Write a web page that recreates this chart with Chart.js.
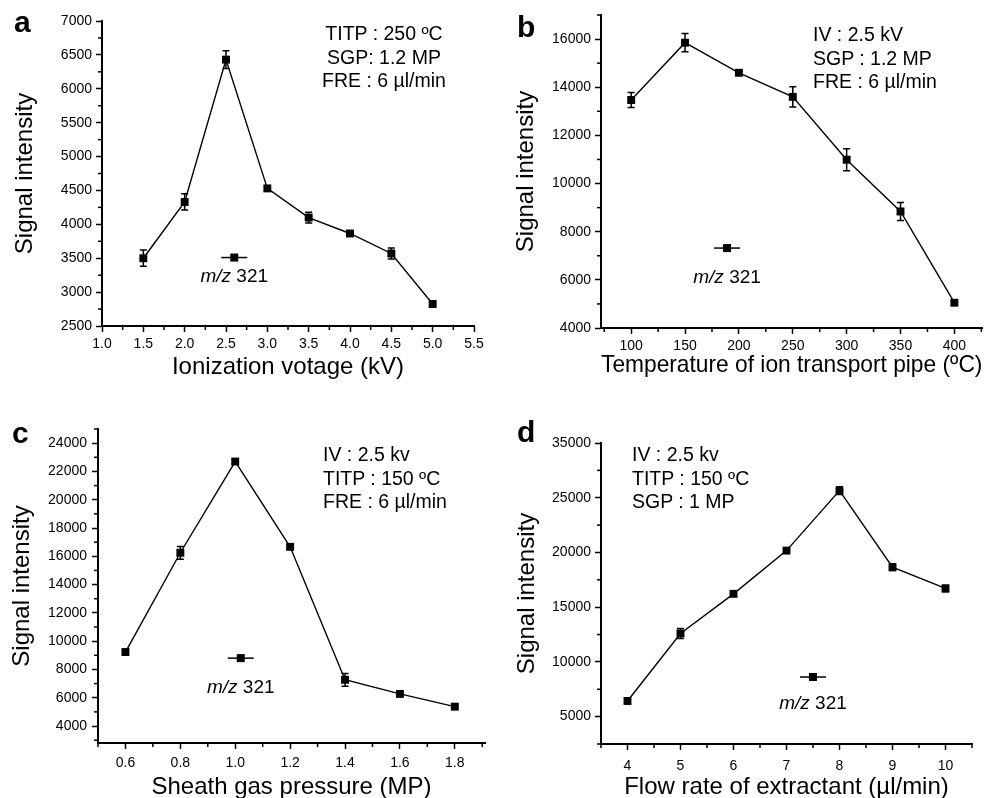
<!DOCTYPE html>
<html>
<head>
<meta charset="utf-8">
<script src="https://cdn.jsdelivr.net/npm/chart.js@4.4.1/dist/chart.umd.min.js"></script>
<style>
  html, body { margin: 0; padding: 0; background: #fff; }
  body { width: 988px; height: 798px; position: relative; overflow: hidden;
         font-family: "Liberation Sans", Arial, Helvetica, sans-serif; color: #000; }
  canvas { position: absolute; }
  .tag { position: absolute; font-weight: bold; font-size: 30px; line-height: 30px; }
  .note { position: absolute; font-size: 19.5px; line-height: 23.5px; white-space: nowrap; }
</style>
</head>
<body>
<canvas id="chart-a" width="494" height="390" style="left:0;top:0"></canvas>
<canvas id="chart-b" width="494" height="390" style="left:494px;top:0"></canvas>
<canvas id="chart-c" width="494" height="420" style="left:0;top:390px"></canvas>
<canvas id="chart-d" width="494" height="420" style="left:494px;top:390px"></canvas>

<div class="tag" style="left:14px;top:7px">a</div>
<div class="tag" style="left:517px;top:12px">b</div>
<div class="tag" style="left:12px;top:418px">c</div>
<div class="tag" style="left:517px;top:417px">d</div>

<div class="note" style="left:284px;top:22px;width:200px;text-align:center">TITP : 250 ºC<br>SGP: 1.2 MP<br>FRE : 6 µl/min</div>
<div class="note" style="left:813px;top:23px">IV : 2.5 kV<br>SGP : 1.2 MP<br>FRE : 6 µl/min</div>
<div class="note" style="left:323px;top:443px">IV : 2.5 kv<br>TITP : 150 ºC<br>FRE : 6 µl/min</div>
<div class="note" style="left:632px;top:443px">IV : 2.5 kv<br>TITP : 150 ºC<br>SGP : 1 MP</div>

<script>
const FONT = '"Liberation Sans", Arial, Helvetica, sans-serif';
const SERIES_LABEL = ['m/z', ' 321'];
const Y_TITLE = 'Signal intensity';

// a — ionization voltage
const voltA   = [1.5, 2.0, 2.5, 3.0, 3.5, 4.0, 4.5, 5.0];
const signalA = [3500, 4330, 6430, 4530, 4100, 3865, 3570, 2825];
const errA    = [120, 120, 130, 30, 80, 40, 80, 30];
const xTicksA = [1.0, 1.5, 2.0, 2.5, 3.0, 3.5, 4.0, 4.5, 5.0, 5.5];
const yTicksA = [2500, 3000, 3500, 4000, 4500, 5000, 5500, 6000, 6500, 7000];

// b — temperature of ion transport pipe
const tempB   = [100, 150, 200, 250, 300, 350, 400];
const signalB = [13470, 15850, 14600, 13600, 10990, 8840, 5050];
const errB    = [310, 380, 100, 420, 460, 370, 100];
const xTicksB = [100, 150, 200, 250, 300, 350, 400];
const yTicksB = [4000, 6000, 8000, 10000, 12000, 14000, 16000];

// c — sheath gas pressure
const pressC  = [0.6, 0.8, 1.0, 1.2, 1.4, 1.6, 1.8];
const signalC = [9230, 16250, 22700, 16670, 7270, 6270, 5370];
const errC    = [150, 450, 150, 150, 450, 80, 80];
const xTicksC = [0.6, 0.8, 1.0, 1.2, 1.4, 1.6, 1.8];
const yTicksC = [4000, 6000, 8000, 10000, 12000, 14000, 16000, 18000, 20000, 22000, 24000];

// d — flow rate of extractant
const flowD   = [4, 5, 6, 7, 8, 9, 10];
const signalD = [6430, 12600, 16220, 20170, 25650, 18650, 16710];
const errD    = [150, 450, 150, 250, 350, 300, 300];
const xTicksD = [4, 5, 6, 7, 8, 9, 10];
const yTicksD = [5000, 10000, 15000, 20000, 25000, 30000];
const yTickLabelsD = ['5000', '10000', '15000', '20000', '25000', '35000'];

// vertical error bars with caps
const errorBars = {
    id: 'errorBars',
    afterDatasetsDraw(chart) {
        const c = chart.ctx, sx = chart.scales.x, sy = chart.scales.y;
        c.save();
        c.strokeStyle = '#000';
        c.lineWidth = 1.5;
        chart.data.datasets.forEach(ds => {
            if (!ds.errors) return;
            ds.data.forEach((pt, i) => {
                const e = ds.errors[i];
                if (!e) return;
                const px = sx.getPixelForValue(pt.x);
                const y1 = sy.getPixelForValue(pt.y + e);
                const y2 = sy.getPixelForValue(pt.y - e);
                c.beginPath();
                c.moveTo(px, y1); c.lineTo(px, y2);
                c.moveTo(px - 3.5, y1); c.lineTo(px + 3.5, y1);
                c.moveTo(px - 3.5, y2); c.lineTo(px + 3.5, y2);
                c.stroke();
            });
        });
        c.restore();
    },
};

// short unlabelled ticks between the labelled ones
const minorTicks = {
    id: 'minorTicks',
    afterDraw(chart, args, opts) {
        const c = chart.ctx;
        c.save();
        c.strokeStyle = '#000';
        c.lineWidth = 1.5;
        ['x', 'y'].forEach(k => {
            const s = chart.scales[k], step = opts[k];
            if (!step) return;
            const majors = s.ticks.map(t => t.value);
            const first = Math.ceil(s.min / step - 1e-6);
            for (let n = first; n * step <= s.max + step * 1e-6; n++) {
                const v = n * step;
                if (majors.some(m => Math.abs(m - v) < step * 1e-3)) continue;
                const p = s.getPixelForValue(v);
                c.beginPath();
                if (k === 'x') { c.moveTo(p, s.top); c.lineTo(p, s.top + 4); }
                else { c.moveTo(s.right, p); c.lineTo(s.right - 4, p); }
                c.stroke();
            }
        });
        c.restore();
    },
};

// "■ m/z 321" key inside the plot
const mzLegend = {
    id: 'mzLegend',
    afterDraw(chart, args, o) {
        const c = chart.ctx;
        const px = chart.scales.x.getPixelForValue(o.x);
        const py = chart.scales.y.getPixelForValue(o.y);
        c.save();
        c.strokeStyle = '#000';
        c.fillStyle = '#000';
        c.lineWidth = 1.5;
        c.beginPath(); c.moveTo(px - 13, py); c.lineTo(px + 13, py); c.stroke();
        c.fillRect(px - 4, py - 4, 8, 8);
        c.textBaseline = 'middle';
        c.font = 'italic 19px ' + FONT;
        const w1 = c.measureText(SERIES_LABEL[0]).width;
        c.font = '19px ' + FONT;
        const w2 = c.measureText(SERIES_LABEL[1]).width;
        const x0 = px - (w1 + w2) / 2, ty = py + o.dy;
        c.font = 'italic 19px ' + FONT;
        c.fillText(SERIES_LABEL[0], x0, ty);
        c.font = '19px ' + FONT;
        c.fillText(SERIES_LABEL[1], x0 + w1, ty);
        c.restore();
    },
};

function axis(pos, a) {
    const horiz = pos === 'bottom';
    return {
        type: 'linear',
        position: pos,
        bounds: 'data',
        min: a.min,
        max: a.max,
        afterBuildTicks: s => { s.ticks = a.ticks.map(v => ({ value: v })); },
        afterFit: s => { if (horiz) s.height = a.size; else s.width = a.size; },
        ticks: {
            color: '#000',
            font: { family: FONT, size: 14 },
            padding: a.tickPad,
            autoSkip: false,
            maxRotation: 0,
            callback: (v, i) => a.labels[i],
        },
        grid: { drawOnChartArea: false, tickLength: 6, tickWidth: 1.5, tickColor: '#000' },
        border: { color: '#000', width: 2 },
        title: {
            display: true,
            text: a.title,
            color: '#000',
            font: { family: FONT, size: 24 },
            padding: horiz ? { top: 0, bottom: a.titlePad } : { top: a.titlePad, bottom: 0 },
        },
    };
}

function buildChart(id, o) {
    return new Chart(document.getElementById(id), {
        type: 'line',
        data: {
            datasets: [{
                data: o.xs.map((x, i) => ({ x, y: o.ys[i] })),
                errors: o.errs,
                borderColor: '#000',
                borderWidth: 1.4,
                pointStyle: 'rect',
                pointRadius: 5.6,
                pointBorderWidth: 0,
                pointBackgroundColor: '#000',
                tension: 0,
                clip: false,
            }],
        },
        options: {
            responsive: false,
            animation: false,
            events: [],
            layout: { padding: o.pad },
            plugins: {
                legend: { display: false },
                tooltip: { enabled: false },
                minorTicks: o.minor,
                mzLegend: o.key,
            },
            scales: { x: axis('bottom', o.x), y: axis('left', o.y) },
        },
        plugins: [errorBars, minorTicks, mzLegend],
    });
}

const fmt1 = arr => arr.map(v => v.toFixed(1));
const fmt0 = arr => arr.map(v => String(v));

buildChart('chart-a', {
    xs: voltA, ys: signalA, errs: errA,
    pad: { top: 21, right: 20, left: 0, bottom: 0 },
    minor: { x: 0.25, y: 250 },
    key: { x: 2.6, y: 3510, dy: 19 },
    x: { min: 1.0, max: 5.5, ticks: xTicksA, labels: fmt1(xTicksA), size: 64, tickPad: 4, title: 'Ionization votage (kV)', titlePad: 8 },
    y: { min: 2500, max: 7000, ticks: yTicksA, labels: fmt0(yTicksA), size: 102, tickPad: 4, title: Y_TITLE, titlePad: 10.5 },
});

buildChart('chart-b', {
    xs: tempB, ys: signalB, errs: errB,
    pad: { top: 15, right: 0, left: 0, bottom: 0 },
    minor: { x: 25, y: 1000 },
    key: { x: 189, y: 7320, dy: 30 },
    x: { min: 72, max: 426, ticks: xTicksB, labels: fmt0(xTicksB), size: 62, tickPad: 4, title: 'Temperature of ion transport pipe (ºC)', titlePad: 10 },
    y: { min: 4000, max: 17000, ticks: yTicksB, labels: fmt0(yTicksB), size: 107, tickPad: 4, title: Y_TITLE, titlePad: 17.5 },
});

buildChart('chart-c', {
    xs: pressC, ys: signalC, errs: errC,
    pad: { top: 39, right: 9, left: 0, bottom: 0 },
    minor: { x: 0.1, y: 1000 },
    key: { x: 1.02, y: 8800, dy: 30 },
    x: { min: 0.5, max: 1.91, ticks: xTicksC, labels: fmt1(xTicksC), size: 67, tickPad: 6, title: 'Sheath gas pressure (MP)', titlePad: 8.5 },
    y: { min: 2800, max: 25000, ticks: yTicksC, labels: fmt0(yTicksC), size: 98, tickPad: 5, title: Y_TITLE, titlePad: 7.5 },
});

buildChart('chart-d', {
    xs: flowD, ys: signalD, errs: errD,
    pad: { top: 53, right: 16, left: 0, bottom: 0 },
    minor: { x: 0.5, y: 2500 },
    key: { x: 7.5, y: 8620, dy: 27 },
    x: { min: 3.5, max: 10.5, ticks: xTicksD, labels: fmt0(xTicksD), size: 66, tickPad: 8, title: 'Flow rate of extractant (µl/min)', titlePad: 8.5 },
    y: { min: 2500, max: 30000, ticks: yTicksD, labels: yTickLabelsD, size: 107, tickPad: 4, title: Y_TITLE, titlePad: 18.5 },
});
</script>
</body>
</html>
